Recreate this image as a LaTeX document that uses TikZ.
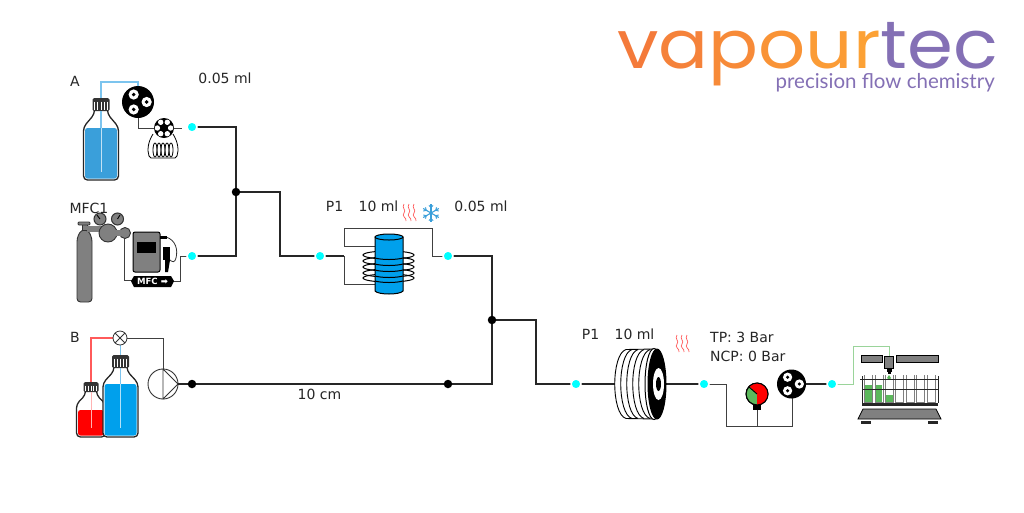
\documentclass[tikz,border=0pt]{standalone}
\usepackage{fontspec}
\setmainfont{DejaVu Sans}
\newfontfamily\logofont{Poppins}
\newfontfamily\tagfont{Lato}
\usetikzlibrary{calc}
\definecolor{cyandot}{HTML}{00FFFF}
\definecolor{liqa}{HTML}{3A9FDA}
\definecolor{liqb}{HTML}{00A0EC}
\definecolor{gasgray}{HTML}{808080}
\definecolor{dgreen}{HTML}{5CB85C}
\definecolor{lgreen}{HTML}{9AD49A}
\definecolor{lblue}{HTML}{7CC4EE}
\definecolor{lred}{HTML}{FF5A5A}
\definecolor{purp}{HTML}{8470B5}
\tikzset{
  pipe/.style={line width=1.5pt,draw=black!85,line join=miter},
  thinpipe/.style={line width=1pt,draw=black!75},
  cdot/.style={circle,fill=cyandot,draw=white,line width=1.5pt,minimum size=10pt,inner sep=0pt},
  bdot/.style={circle,fill=black,minimum size=8.5pt,inner sep=0pt},
  lab/.style={font=\fontsize{14}{15}\selectfont,text=black!85,inner sep=0pt},
  outl/.style={line width=1.3pt,draw=black!85},
}
% bottle: cx, half width, cap top, cap bottom, shoulder, bottom, liquid top, colour, cap half width
\newcommand{\bottlefig}[9]{
  \draw[outl,fill=white,rounded corners=4pt] ({#1-#9+2},#4) -- ({#1-#9+2},{#4+3}) -- ({#1-#2},#5) -- ({#1-#2},#6) -- ({#1+#2},#6) -- ({#1+#2},#5) -- ({#1+#9-2},{#4+3}) -- ({#1+#9-2},#4);
  \fill[#8,rounded corners=2.5pt] ({#1-#2+1.5},#7) rectangle ({#1+#2-1.5},{#6-1.5});
  \fill[black!80,rounded corners=1.5pt] ({#1-#9},#3) rectangle ({#1+#9},#4);
  \foreach \k in {-0.72,-0.36,0,0.36,0.72}{\draw[white,line width=0.9pt] ({#1+\k*#9},{#3+3.5}) -- ({#1+\k*#9},{#4-1.5});}
}
% three-head pump
\newcommand{\threehead}[4]{
  \node[circle,fill=black,minimum size=#3*2pt,inner sep=0pt] (#4) at (#1,#2) {};
  \foreach \a in {0,120,240}{
    \fill[white] ($(#1,#2)+(\a:{#3*0.54})$) circle ({#3*0.32});
    \fill[black] ($(#1,#2)+(\a:{#3*0.54})$) circle ({#3*0.12});
  }
}
\begin{document}
\begin{tikzpicture}[x=1pt,y=-1pt]
\useasboundingbox (0,0) rectangle (1024,512);
\fill[white] (0,0) rectangle (1024,512);

% --- junctions and joints
\coordinate (j1) at (236,192);
\coordinate (j2) at (492,320);
\coordinate (dA) at (192,127);
\coordinate (dM) at (192,256);
\coordinate (dR1in) at (320,256);
\coordinate (dR1out) at (448,256);
\coordinate (dR2in) at (576,384);
\coordinate (dR2out) at (704,384);
\coordinate (dOut) at (832,384);
\coordinate (dB) at (192,384);
\coordinate (dB2) at (448,384);

% --- pipes
\draw[pipe] (dA) -- (236,127) -- (j1);
\draw[pipe] (dM) -- (236,256) -- (j1);
\draw[pipe] (j1) -- (280,192) -- (280,256) -- (dR1in);
\draw[pipe] (dR1in) -- (344,256);
\draw[thinpipe] (344,256) -- (344,284) -- (380,284);
\draw[thinpipe] (380,246) -- (344,246) -- (344,228) -- (432,228) -- (432,256) -- (dR1out);
\draw[pipe] (dR1out) -- (492,256) -- (j2);
\draw[pipe] (j2) -- (492,384) -- (dB2) -- (dB);
\draw[pipe] (j2) -- (536,320) -- (536,384) -- (dR2in) -- (620,384);
\draw[pipe] (660,384) -- (dR2out);
\draw[thinpipe] (dR2out) -- (726,384) -- (726,426) -- (792,426) -- (792,395);
\draw[thinpipe] (757,400) -- (757,426);
\draw[pipe] (792,384) -- (dOut);
\draw[line width=1pt,draw=lgreen] (dOut) -- (853,384) -- (853,346) -- (889,346) -- (889,358);

% --- line A
\bottlefig{101}{17.5}{98}{111}{127}{180}{128}{liqa}{8.5}
\draw[line width=1.3pt,draw=lblue] (101,128) -- (101,111);
\draw[line width=1.3pt,draw=lblue] (101,98) -- (101,82) -- (138,82) -- (138,92);
\draw[line width=1pt,white!70!liqa] (101,128) -- (101,172);
\draw[thinpipe] (138,110) -- (138,128) -- (160,128);
\threehead{138}{102}{16}{pumpA}
% loop
\draw[line width=0.8pt,black] (153,134) .. controls (148,142) and (147,150) .. (149,156) -- (151,158) -- (175,158) -- (177,156) .. controls (179,150) and (178,142) .. (173,134);
\foreach \x in {155,159,163,167,171}{\draw[line width=0.8pt,black] (\x,150) ellipse (2 and 7);}
\node[circle,fill=black,minimum size=20pt,inner sep=0pt] (valveA) at (164,128) {};
\foreach \a in {0,60,...,300}{\fill[white] ($(164,128)+(\a:6.6)$) circle (2.7);}
\draw[thinpipe] (174,128) -- (182,128);
\node[cdot] at (dA) {};

% --- line MFC
\fill[gasgray,draw=black!80,line width=0.9pt,rounded corners=3.5pt] (77,302) -- (77,238) -- (81,230) -- (88,230) -- (92,238) -- (92,302) -- cycle;
\fill[gasgray,draw=black!80,line width=0.9pt] (82,230) rectangle (87,224);
\fill[gasgray,draw=black!80,line width=0.9pt,rounded corners=1pt] (78,222) rectangle (90,225);
\fill[gasgray] (87,226) rectangle (105,232);
\draw[thinpipe] (124,236) -- (124,280) -- (135,280);
\foreach \x in {100,117.5}{\draw[line width=1pt,black!80,fill=gasgray] (\x,219) circle (6);}
\draw[line width=0.9pt] (100,219) -- (97,215);
\draw[line width=0.9pt] (117.5,219) -- (120,215);
\fill[gasgray,draw=black!80,line width=0.9pt] (108,233) circle (9);
\fill[gasgray,draw=black!80,line width=0.9pt] (125,233) circle (5.5);
\fill[gasgray] (115,230) rectangle (122,236);
\fill[gasgray,draw=black,line width=1pt,rounded corners=2pt] (133,232) rectangle (160,272);
\fill[black] (137,242) rectangle (156,253);
\draw[line width=0.8pt,black!80] (160,237) -- (166,237) .. controls (176,240) and (178,250) .. (176,258) .. controls (175,263) and (172,262) .. (170,260);
\fill[black] (163,247) rectangle (170,260);
\fill[black] (165,260) -- (170,260) -- (168,272) -- (165,272) -- cycle;
\fill[black] (160,236) rectangle (167,238.5);
\draw[thinpipe] (172,281) -- (180,281) -- (180,256) -- (dM);
\fill[black] (131,281) -- (134,276) -- (171,276) -- (174,281) -- (171,287) -- (134,287) -- cycle;
\node[text=white,inner sep=0pt,font=\fontsize{8.6}{9}\selectfont\bfseries] (mfc) at (152.5,281.5) {MFC ➡};
\node[cdot] at (dM) {};

% --- line B
\draw[line width=1.3pt,draw=lred] (91,382) -- (91,338) -- (113,338);
\bottlefig{91}{14.5}{382}{392}{404}{437}{410}{red}{7.5}
\bottlefig{120.5}{17.5}{355}{368}{383}{437}{384}{liqb}{8.5}
\draw[line width=1.3pt,draw=lred] (91,382) -- (91,338);
\draw[line width=1.1pt,draw=lblue] (120.5,345) -- (120.5,355);
\draw[line width=1.1pt,draw=lblue] (120.5,368) -- (120.5,384);
\draw[line width=0.9pt,white!70!red] (91,392) -- (91,428);
\draw[line width=0.9pt,white!70!liqb] (120.5,384) -- (120.5,428);
\draw[thinpipe] (127,338) -- (163,338) -- (163,370);
\node[circle,draw=black!80,fill=white,line width=0.8pt,minimum size=14pt,inner sep=0pt] (valveB) at (120,338) {};
\draw[line width=0.8pt,black!80] (115,333) -- (125,343) (115,343) -- (125,333);
\node[circle,draw=black!80,fill=white,line width=0.9pt,minimum size=30pt,inner sep=0pt] (pumpB) at (163,384) {};
\draw[line width=0.9pt,black!80,line join=round] (163,369) -- (178,384) -- (163,399) -- cycle;
\draw[pipe] (pumpB) -- (dB);
\node[bdot] at (dB) {};
\node[bdot] at (dB2) {};

% --- reactor 1
\foreach \y in {255,261,267,273,278}{\draw[line width=1pt,black] (388.5,\y) ellipse (25.5 and 4);}
\draw[line width=1pt,black,fill=liqb] (375,237) -- (375,291) .. controls (378,295) and (400,295) .. (403,291) -- (403,237) -- cycle;
\draw[line width=1pt,black,fill=liqb] (389,237) ellipse (14 and 3);
\foreach \y in {255,261,267,273,278}{\draw[line width=1pt,black] (375,\y+3) .. controls (382,\y+5) and (396,\y+5) .. (403,\y+3);}

% --- reactor 2
\draw[line width=0.9pt,black,fill=white] (626,349.5) -- (655,349) -- (655,419) -- (626,418.5) .. controls (611,414) and (611,354) .. (626,349.5);
\foreach \x in {6,12,18,24}{
  \draw[line width=0.9pt,black] (626+\x,349.5) .. controls (611+\x,354) and (611+\x,414) .. (626+\x,418.5);
}
\draw[line width=1pt,black,fill=white] (654,384) ellipse (9 and 35.5);
\fill[black] (657,384) ellipse (9.5 and 35.5);
\fill[white] (658.5,384) ellipse (5.5 and 16);
\fill[black] (658.5,384) ellipse (2.5 and 7);

% --- heat
\foreach \x in {404,409,414}{
  \draw[line width=0.7pt,lred] (\x,204) .. controls (\x-3,208) and (\x+3,210) .. (\x,213) .. controls (\x-3,216) and (\x+3,218) .. (\x+2,221);
}
\foreach \x in {677,682,687}{
  \draw[line width=0.7pt,lred] (\x,335) .. controls (\x-3,339) and (\x+3,341) .. (\x,344) .. controls (\x-3,347) and (\x+3,349) .. (\x+2,352);
}
\begin{scope}[shift={(431,213)}]
\foreach \a in {30,90,150,210,270,330}{
  \draw[liqa,line width=1.1pt] (0,0) -- (\a:9);
  \draw[liqa,line width=1pt] (\a:5.5) -- ++(\a+45:3);
  \draw[liqa,line width=1pt] (\a:5.5) -- ++(\a-45:3);
}
\end{scope}

% --- gauge & pump
\fill[black] (753,402) rectangle (761,409.5);
\draw[line width=1pt,black,fill=dgreen] (757,394) circle (11);
\fill[red] (757,383) arc[start angle=-90,end angle=90,radius=11] -- cycle;
\fill[red] (757,394) -- (757,383) -- (749,386) -- cycle;
\draw[line width=1pt,black] (757,394) circle (11);
\draw[line width=0.9pt,black] (757,394) -- (749,387);
\threehead{791.5}{384}{14.5}{pumpC}

% --- fraction collector
\fill[gasgray,draw=black,line width=0.8pt] (861,355) rectangle (882,362);
\fill[gasgray,draw=black,line width=0.8pt] (896,355) rectangle (938,362);
\fill[gasgray,draw=black,line width=0.8pt] (884.5,356) rectangle (893.5,368);
\fill[black] (887,368) rectangle (891.5,372);
\fill[black] (888,372) rectangle (890.5,374);
\fill[dgreen] (889,375) -- (891,378) -- (889,380) -- (887,378) -- cycle;
\foreach \i/\h in {0/385,1/385,2/395}{
  \fill[dgreen] (865+\i*10.4,\h) rectangle (872+\i*10.4,402);
}
\foreach \i in {0,...,6}{
  \draw[line width=0.6pt,black!50] (864.5+\i*10.4,375) -- (864.5+\i*10.4,402) -- (872.5+\i*10.4,402) -- (872.5+\i*10.4,375);
}
\draw[line width=1pt,black!85] (860,379) -- (939,379);
\draw[line width=1pt,black!85] (862,389) -- (938,389);
\draw[line width=1pt,black!85] (862,403) -- (938,403);
\draw[line width=1pt,black!85] (862,376) -- (862,403) (938,376) -- (938,403);
\fill[gasgray,draw=black,line width=0.8pt] (863,409) -- (936,409) -- (941,419) -- (858,419) -- cycle;
\fill[black!85] (862,404) rectangle (938,406);
\fill[black!85] (861,421) rectangle (871,424);
\fill[black!85] (928,421) rectangle (938,424);

% --- connection dots on top
\node[bdot] (J1) at (j1) {};
\node[bdot] (J2) at (j2) {};
\node[cdot] at (dR1in) {};
\node[cdot] at (dR1out) {};
\node[cdot] at (dR2in) {};
\node[cdot] at (dR2out) {};
\node[cdot] at (dOut) {};

% --- labels
\node[lab] at (75,81) {A};
\node[lab] at (225,78) {0.05 ml};
\node[lab] at (89,208) {MFC1};
\node[lab] at (75,337) {B};
\node[lab] at (334.5,206) {P1};
\node[lab] at (378.5,206) {10 ml};
\node[lab] at (481,206) {0.05 ml};
\node[lab] at (319.5,394) {10 cm};
\node[lab] at (590.5,334) {P1};
\node[lab] at (634.5,334) {10 ml};
\node[lab,anchor=west] at (710,337) {TP: 3 Bar};
\node[lab,anchor=west] at (710,356) {NCP: 0 Bar};

% --- logo
\node[anchor=base west,inner sep=0pt,font=\logofont\fontsize{70}{72}\selectfont] (logo) at (617,68) {\scalebox{1.055}[0.96]{\textcolor[HTML]{F47A3A}{v}\textcolor[HTML]{F5823A}{a}\textcolor[HTML]{F78A38}{p}\textcolor[HTML]{F99336}{o}\textcolor[HTML]{FB9C36}{u}\textcolor[HTML]{FCA135}{r}\textcolor{purp}{tec}}};
\node[anchor=base east,inner sep=0pt,text=purp,font=\tagfont\fontsize{20.5}{21}\selectfont] (tag) at (995,88) {precision flow chemistry};
\end{tikzpicture}
\end{document}
